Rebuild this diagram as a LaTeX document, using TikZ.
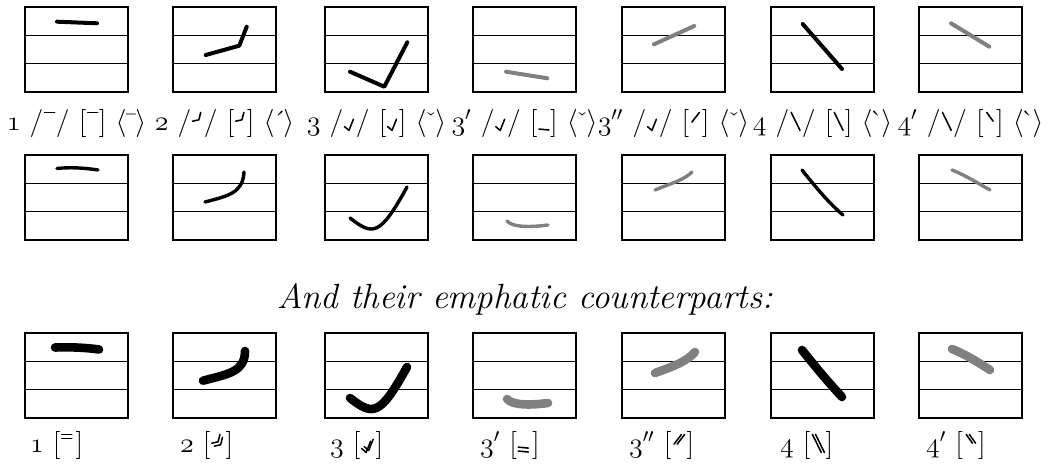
\RequirePackage{fix-cm}
\documentclass[tikz,border=0pt]{standalone}
\usepackage{amsmath}
\usepackage{xcolor}
\usepackage{tikz}
\providecommand\legacyoldstylenums[1]{{\usefont{OML}{cmm}{m}{it}#1}}
\newcommand{\osn}[1]{\legacyoldstylenums{#1}}
\tikzset{
  % staff boxes
  staff frame/.style={line width=1.4pt},
  staff rule/.style={line width=0.6pt},
  % pitch contours
  contour/.style={line width=2pt,line cap=round,line join=round},
  contour soft/.style={contour,line width=1.7pt},
  contour bold/.style={contour,line width=4.3pt},
  faint/.style={draw=black!50},
  % labels
  tone label/.style={font=\fontsize{14}{16}\selectfont},
  heading/.style={font=\fontsize{17.5}{21}\selectfont\itshape,anchor=base}
}
% tone letters, drawn in a unit square on the baseline
\newcommand{\tone}[1]{\tikz[reset cm,baseline=0pt,x=0.45em,y=0.7em,line width=0.055em,line cap=round,line join=round]{\useasboundingbox (0,0) rectangle (1,1); \draw #1;}}
\newcommand{\tonetwo}[2]{\tikz[reset cm,baseline=0pt,x=0.45em,y=0.7em,line width=0.055em,line cap=round,line join=round]{\useasboundingbox (0,0) rectangle (1.2,1); \draw #1; \draw[shift={#2}] #1;}}
\newcommand{\cHigh}{(0.1,0.95) -- (0.9,0.95)}
\newcommand{\cRise}{(0.1,0.5) -- (0.6,0.57) -- (0.75,0.95)}
\newcommand{\cDip}{(0.1,0.22) -- (0.45,0.03) -- (0.8,0.6)}
\newcommand{\cLow}{(0.1,0.1) -- (0.9,0.05)}
\newcommand{\cMidRise}{(0.2,0.45) -- (0.8,0.95)}
\newcommand{\cFall}{(0.15,0.95) -- (0.85,0.03)}
\newcommand{\cHalfFall}{(0.25,0.95) -- (0.75,0.5)}
% one staff: #1 = top edge
\newcommand{\staff}[1]{%
  \draw[staff rule] (0,#1+28.3) -- ++(103,0) (0,#1+56.7) -- ++(103,0);
  \draw[staff frame] (0,#1) rectangle ++(103,85);}

\begin{document}
\begin{tikzpicture}[x=0.5pt,y=-0.5pt]
\useasboundingbox (0,0) rectangle (1050,469);

% Tone 1
\begin{scope}[shift={(25,0)}]
\staff{7} \staff{155} \staff{333}
\draw[contour] (32,21.7) -- (72,23.3);
\draw[contour soft] (32,168.5) .. controls (45,167) and (60,168) .. (73,170);
\draw[contour bold] (30,347.5) .. controls (45,347) and (60,347.5) .. (74,349.5);
\node[tone label,anchor=base] (t1) at (51.5,131) {\osn{1} /\tone{\cHigh}/ [\tone{\cHigh}] $\langle\bar{\phantom{\imath}}\rangle$};
\node[tone label,anchor=base west] (e1) at (-2,453) {\osn{1} [\tonetwo{\cHigh}{(0,-0.2)}]};
\end{scope}

% Tone 2
\begin{scope}[shift={(173,0)}]
\staff{7} \staff{155} \staff{333}
\draw[contour] (32.7,55) -- (66.3,45.7) -- (73.7,26.7);
\draw[contour soft] (32,202) .. controls (55,196) and (70,193) .. (71,172);
\draw[contour bold] (30,380.7) .. controls (55,374) and (72,372) .. (72,351);
\node[tone label,anchor=base] (t2) at (51.5,131) {\osn{2} /\tone{\cRise}/ [\tone{\cRise}] $\langle\acute{\phantom{\imath}}\rangle$};
\node[tone label,anchor=base west] (e2) at (0,453) {\osn{2} [\tonetwo{\cRise}{(0.2,-0.15)}]};
\end{scope}

% Tone 3
\begin{scope}[shift={(325,0)}]
\staff{7} \staff{155} \staff{333}
\draw[contour] (25,71.7) -- (59.3,86.7) -- (82.3,42.3);
\draw[contour soft] (25,218) .. controls (48,236) and (55,236) .. (82,187);
\draw[contour bold] (25,398) .. controls (48,416) and (55,416) .. (82,367);
\node[tone label,anchor=base] (t3) at (51.5,131) {\osn{3} /\tone{\cDip}/ [\tone{\cDip}] $\langle\check{\phantom{\imath}}\rangle$};
\node[tone label,anchor=base west] (e3) at (-2,453) {\osn{3} [\tonetwo{\cDip}{(0.2,0.1)}]};
\end{scope}

% Tone 3'
\begin{scope}[shift={(473,0)}]
\staff{7} \staff{155} \staff{333}
\draw[contour,faint] (33,71.7) -- (74.3,78.3);
\draw[contour soft,faint] (34,221) .. controls (40,228) and (60,227) .. (75,225);
\draw[contour bold,faint] (34,399) .. controls (40,406) and (60,405) .. (75,403);
\node[tone label,anchor=base] (t3a) at (51.5,131) {\osn{3}$'$ /\tone{\cDip}/ [\tone{\cLow}] $\langle\check{\phantom{\imath}}\rangle$};
\node[tone label,anchor=base west] (e3a) at (0,453) {\osn{3}$'$ [\tonetwo{\cLow}{(0,0.2)}]};
\end{scope}

% Tone 3''
\begin{scope}[shift={(622,0)}]
\staff{7} \staff{155} \staff{333}
\draw[contour,faint] (32,44.3) -- (72.3,26);
\draw[contour soft,faint] (33,190) .. controls (50,183) and (62,180) .. (70,172);
\draw[contour bold,faint] (33,373) .. controls (52,366) and (64,362) .. (73,352);
\node[tone label,anchor=base] (t3b) at (51.5,131) {\osn{3}$''$ /\tone{\cDip}/ [\tone{\cMidRise}] $\langle\check{\phantom{\imath}}\rangle$};
\node[tone label,anchor=base west] (e3b) at (0,453) {\osn{3}$''$ [\tonetwo{\cMidRise}{(0.25,0)}]};
\end{scope}

% Tone 4
\begin{scope}[shift={(771,0)}]
\staff{7} \staff{155} \staff{333}
\draw[contour] (31.7,24) -- (71,69);
\draw[contour soft] (31,170) .. controls (47,190) and (58,203) .. (72,215);
\draw[contour bold] (31,350) .. controls (47,370) and (58,383) .. (71,397);
\node[tone label,anchor=base] (t4) at (51.5,131) {\osn{4} /\tone{\cFall}/ [\tone{\cFall}] $\langle\grave{\phantom{\imath}}\rangle$};
\node[tone label,anchor=base west] (e4) at (2,453) {\osn{4} [\tonetwo{\cFall}{(0.25,0)}]};
\end{scope}

% Tone 4'
\begin{scope}[shift={(919,0)}]
\staff{7} \staff{155} \staff{333}
\draw[contour,faint] (32,23.3) -- (70.3,46.7);
\draw[contour soft,faint] (33,170) .. controls (48,176) and (60,184) .. (71,190);
\draw[contour bold,faint] (33,349) .. controls (48,355) and (60,363) .. (71,370);
\node[tone label,anchor=base] (t4a) at (51.5,131) {\osn{4}$'$ /\tone{\cFall}/ [\tone{\cHalfFall}] $\langle\grave{\phantom{\imath}}\rangle$};
\node[tone label,anchor=base west] (e4a) at (0,453) {\osn{4}$'$ [\tonetwo{\cHalfFall}{(0.25,0)}]};
\end{scope}

\node[heading] (head) at (525,309) {And their emphatic counterparts:};

\end{tikzpicture}
\end{document}
